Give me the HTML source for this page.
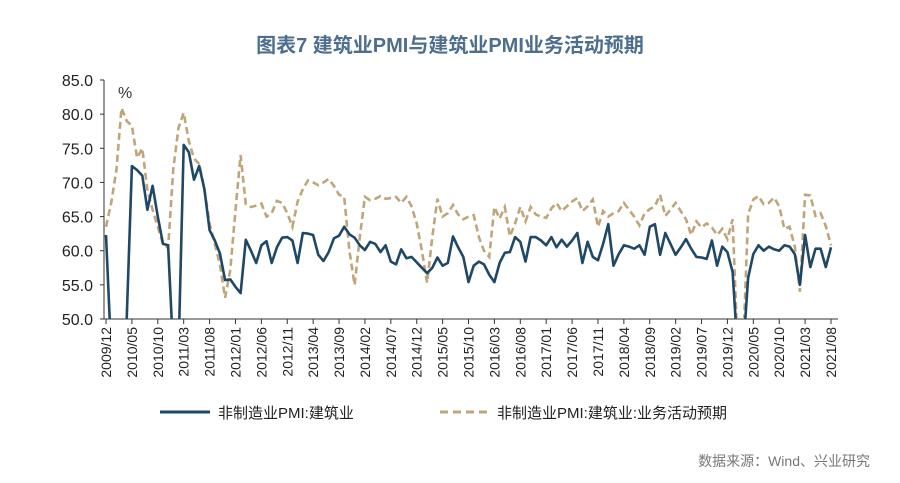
<!DOCTYPE html>
<html><head><meta charset="utf-8"><style>
body{margin:0;background:#fff;}
svg{display:block;font-family:"Liberation Sans","Noto Sans CJK SC",sans-serif;}
</style></head><body>
<svg id="c" width="900" height="483">
<text x="450" y="52" text-anchor="middle" font-size="20" font-weight="bold" fill="#4d6f8d">图表7  建筑业PMI与建筑业PMI业务活动预期</text>
<text x="118" y="98" font-size="16" fill="#333">%</text>
<g id="axes"></g>
<g id="plot"></g>
<g>
<line x1="160" y1="412" x2="210" y2="412" stroke="#1f4866" stroke-width="3"/>
<text x="218" y="418" font-size="15" fill="#222">非制造业PMI:建筑业</text>
<line x1="440" y1="412" x2="490" y2="412" stroke="#c0a57a" stroke-width="3" stroke-dasharray="8,5"/>
<text x="497" y="418" font-size="15" fill="#222">非制造业PMI:建筑业:业务活动预期</text>
</g>
<text x="870" y="466" text-anchor="end" font-size="14" fill="#777">数据来源：Wind、兴业研究</text>
</svg>
<script>
const construction=[62.3,45,45,45,50,72.4,71.8,71,66,69.5,65,61,60.8,45,45,75.5,74.4,70.4,72.4,69,63,61.5,59.6,55.7,55.8,54.7,53.8,61.6,60,58.2,60.8,61.4,58.2,60.5,61.9,62,61.5,58.2,62.6,62.5,62.3,59.4,58.5,59.8,61.8,62.2,63.5,62.4,61.9,60.8,60.1,61.3,61,59.8,60.8,58.4,58,60.2,58.9,59.1,58.3,57.5,56.7,57.5,59,57.8,58.2,62.1,60.5,59.1,55.4,57.8,58.4,58,56.5,55.4,58.2,59.7,59.8,62,61.3,58.4,62,62,61.5,60.8,62,60.5,61.6,60.6,61.5,62.6,58.2,61.3,59.1,58.6,61,63.9,57.8,59.5,60.8,60.6,60.3,60.8,59.4,63.5,63.9,59.4,62.6,61,59.4,60.5,61.7,60.3,59.1,59,58.8,61.5,57.8,60.6,59.8,56.9,45,45,56,59.5,60.8,60,60.6,60.2,60,60.8,60.6,59.5,55,62.3,57.6,60.3,60.3,57.6,60.5];
const expectation=[63.5,67,71.8,80.9,79,78.3,73.6,75,68.9,66,63.5,61,60.4,72,78,80.2,76,73.5,72.7,69,64,61,58,53.1,57.2,66,74,66.8,66.4,66.6,66.9,65,65.5,67.3,67,65.5,63.5,67.2,69,70.3,70,69.6,70,70.5,69.5,68.2,67.9,60,55,62,67.9,67.4,67.6,68,67.6,67.7,67.9,67,67.9,66.5,64,60,55.3,62,67.6,65,65.5,66.7,65.3,64.6,65,65.2,62,60,59.1,66.4,64.7,66.4,62.1,64,66.4,64.3,66.4,65.3,65,64.8,66.2,67,65.8,66.5,67.2,67.7,65.8,66.5,67.5,63.5,65.8,65,65.5,65.8,67,66,65,63.7,65.5,66.1,66.5,68.2,65.1,66,67,65.8,64.6,62.3,64.3,63.4,64,63.4,62.3,63.2,61.7,64.6,45,45,65.3,67.5,68,66.8,67,67.8,66.5,63.2,63.5,60.6,54,68.2,68.1,65.1,65.5,63.6,60.8];
const yTicks=[50,55,60,65,70,75,80,85];
const xLabels=["2009/12","2010/05","2010/10","2011/03","2011/08","2012/01","2012/06","2012/11","2013/04","2013/09","2014/02","2014/07","2014/12","2015/05","2015/10","2016/03","2016/08","2016/01","2017/06","2017/11","2018/04","2018/09","2019/02","2019/07","2019/12","2020/05","2020/10","2021/03","2021/08"];
xLabels[17]="2017/01";
const NS="http://www.w3.org/2000/svg";
const X0=106,X1=831,Y0=319,Y1=80,N=construction.length;
const xs=i=>X0+(X1-X0)*i/(N-1);
const ys=v=>Y0-(v-50)/(85-50)*(Y0-Y1);
function mk(t,a,p){const e=document.createElementNS(NS,t);for(const k in a)e.setAttribute(k,a[k]);p.appendChild(e);return e;}
const axes=document.getElementById('axes'),plot=document.getElementById('plot');
const defs=mk('defs',{},plot);const cp=mk('clipPath',{id:'cl'},defs);mk('rect',{x:100,y:70,width:750,height:Y0-70},cp);
const ya=mk('line',{x1:104,y1:Y1,x2:104,y2:Y0,stroke:'#333','stroke-width':1},axes);


yTicks.forEach(v=>{
 const t=mk('line',{x1:100,x2:104,y1:ys(v),y2:ys(v),stroke:'#333'},axes);
 
 
 const l=mk('text',{x:93,y:ys(v)+6,'text-anchor':'end','font-size':16,fill:'#222'},axes);
 l.textContent=v.toFixed(1);
 
 
});
const xa=mk('line',{x1:104,y1:Y0,x2:838,y2:Y0,stroke:'#333','stroke-width':1},axes);


xLabels.forEach((s,k)=>{
 const x=xs(k*5);
 const t=mk('line',{x1:x,x2:x,y1:Y0,y2:Y0+5,stroke:'#333'},axes);
 
 
 const l=mk('text',{x:0,y:0,'text-anchor':'end','font-size':14,fill:'#222',transform:`translate(${x+5},${Y0+8}) rotate(-90)`},axes);
 l.textContent=s;
 
 
});
function path(arr){return arr.map((v,i)=>(i?'L':'M')+xs(i).toFixed(1)+','+ys(v).toFixed(1)).join('');}
const g=mk('path',{d:path(expectation),fill:'none',stroke:'#c0a57a','stroke-width':2.6,'stroke-dasharray':'7,4','clip-path':'url(#cl)'},plot);


const b=mk('path',{d:path(construction),fill:'none',stroke:'#1f4866','stroke-width':2.6,'stroke-linejoin':'round','clip-path':'url(#cl)'},plot);


</script>
</body></html>
